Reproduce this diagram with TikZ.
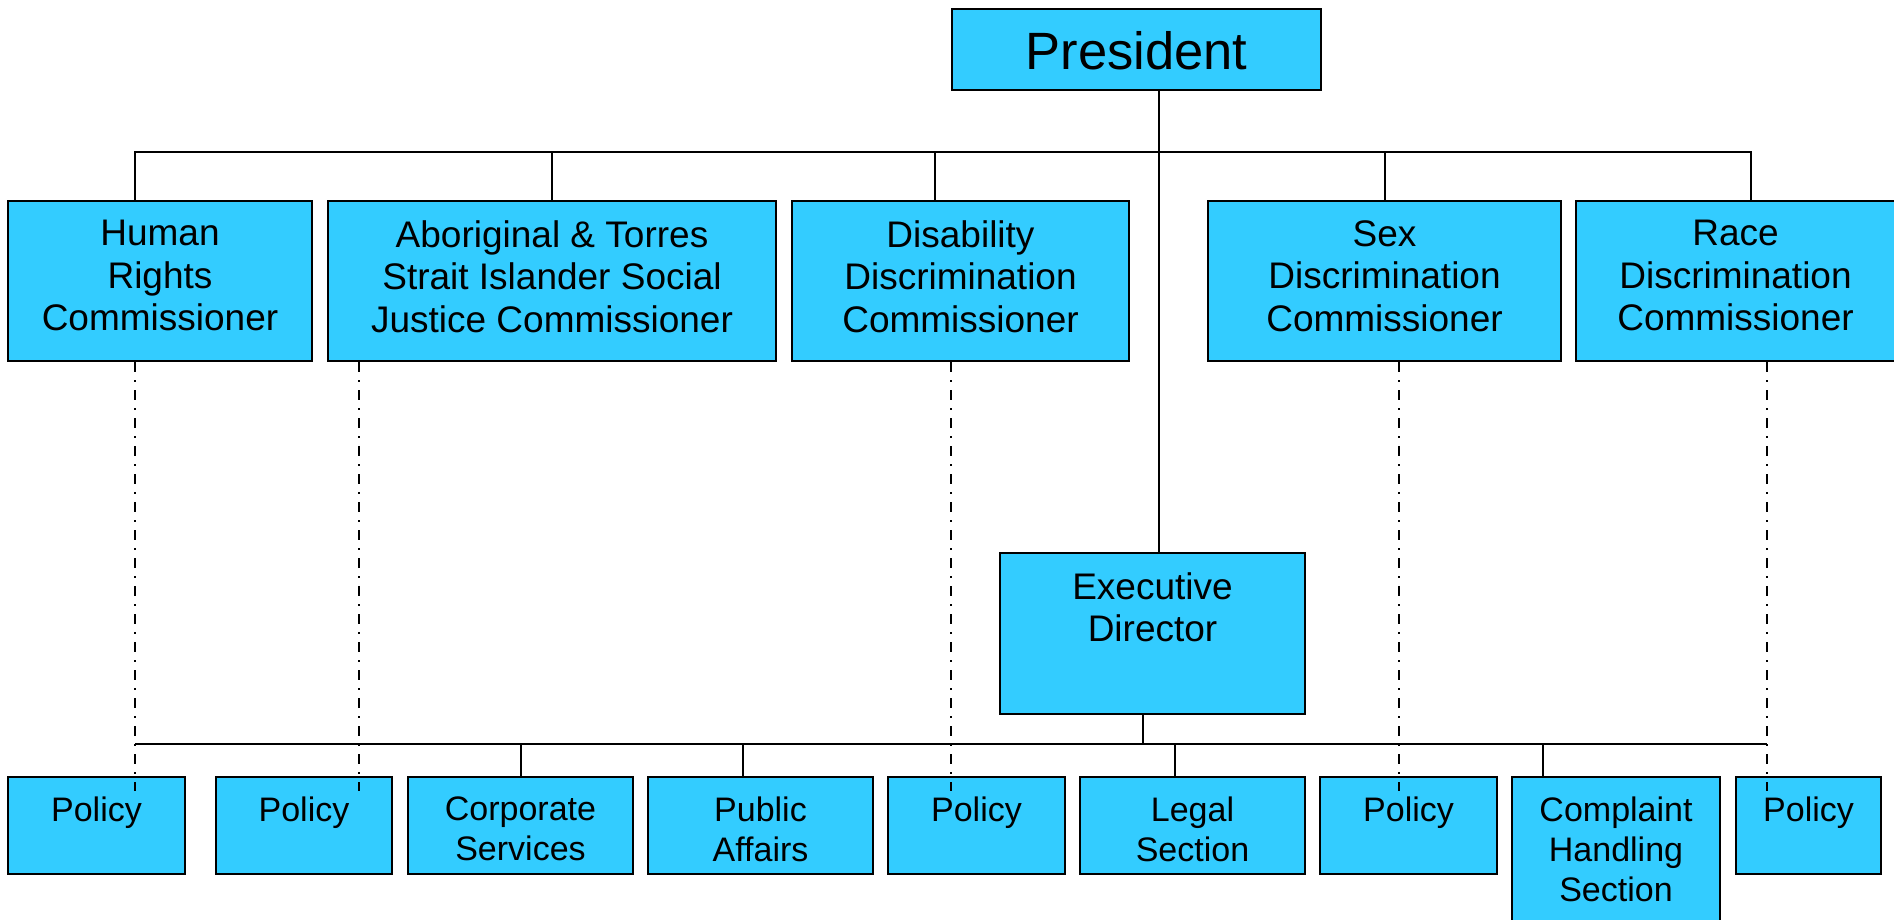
\documentclass[tikz,border=0pt]{standalone}
\usepackage{fontspec}
\setmainfont{Liberation Sans}
\usetikzlibrary{calc}
\definecolor{boxfill}{RGB}{51,204,255}
\begin{document}
\begin{tikzpicture}[x=0.5pt,y=-0.5pt,
  box/.style={draw=black, line width=1pt, fill=boxfill, inner sep=0pt, anchor=north west},
  sz/.style 2 args={minimum width=#1*0.5pt, minimum height=#2*0.5pt},
  bigtxt/.style={font=\fontsize{18.5}{21.25}\selectfont, align=center, inner sep=0pt, anchor=north},
  smalltxt/.style={font=\fontsize{17}{20}\selectfont, align=center, inner sep=0pt, anchor=north},
  titletxt/.style={font=\fontsize{26.25}{30}\selectfont, inner sep=0pt, anchor=north},
  conn/.style={line width=1pt},
  dashdot/.style={line width=1pt, dash pattern=on 5pt off 4pt on 1pt off 4pt}]

\useasboundingbox (0,0) rectangle (1894,920);

% ---- boxes ----
\node[box, sz={369}{81}] (pres) at (951,8) {};

\node[box, sz={304}{160}] (hr)   at (7,200) {};
\node[box, sz={448}{160}] (abor) at (327,200) {};
\node[box, sz={337}{160}] (dis)  at (791,200) {};
\node[box, sz={353}{160}] (sex)  at (1207,200) {};
\node[box, sz={325}{160}] (race) at (1575,200) {};

\node[box, sz={305}{161}] (exec) at (999,552) {};

\node[box, sz={177}{97}]  (pol1)  at (7,776) {};
\node[box, sz={176}{97}]  (pol2)  at (215,776) {};
\node[box, sz={225}{97}]  (corp)  at (407,776) {};
\node[box, sz={225}{97}]  (pub)   at (647,776) {};
\node[box, sz={177}{97}]  (pol3)  at (887,776) {};
\node[box, sz={225}{97}]  (legal) at (1079,776) {};
\node[box, sz={177}{97}]  (pol4)  at (1319,776) {};
\node[box, sz={208}{150}] (compl) at (1511,776) {};
\node[box, sz={145}{97}]  (pol5)  at (1735,776) {};

% ---- labels ----
\node[titletxt] (pres-t) at ($(pres.north)+(0,23.5)$) {President};

\node[bigtxt] (hr-t)   at ($(hr.north)+(0,20)$)   {Human\\Rights\\Commissioner};
\node[bigtxt] (abor-t) at ($(abor.north)+(0,20)$) {Aboriginal \& Torres\\Strait Islander Social\\Justice Commissioner};
\node[bigtxt] (dis-t)  at ($(dis.north)+(0,20)$)  {Disability\\Discrimination\\Commissioner};
\node[bigtxt] (sex-t)  at ($(sex.north)+(0,20)$)  {Sex\\Discrimination\\Commissioner};
\node[bigtxt] (race-t) at ($(race.north)+(-3,20)$) {Race\\Discrimination\\Commissioner};
\node[bigtxt] (exec-t) at ($(exec.north)+(0,20)$) {Executive\\Director};

\node[smalltxt] (pol1-t)  at ($(pol1.north)+(0,20.5)$)  {Policy};
\node[smalltxt] (pol2-t)  at ($(pol2.north)+(0,20.5)$)  {Policy};
\node[smalltxt] (corp-t)  at ($(corp.north)+(0,20.5)$)  {Corporate\\Services};
\node[smalltxt] (pub-t)   at ($(pub.north)+(0,20.5)$)   {Public\\Affairs};
\node[smalltxt] (pol3-t)  at ($(pol3.north)+(0,20.5)$)  {Policy};
\node[smalltxt] (legal-t) at ($(legal.north)+(0,20.5)$) {Legal\\Section};
\node[smalltxt] (pol4-t)  at ($(pol4.north)+(0,20.5)$)  {Policy};
\node[smalltxt] (compl-t) at ($(compl.north)+(0,20.5)$) {Complaint\\Handling\\Section};
\node[smalltxt] (pol5-t)  at ($(pol5.north)+(0,20.5)$)  {Policy};

% ---- bus levels and drop positions ----
\coordinate (tb)    at (0,152);
\coordinate (bb)    at (0,744);
\coordinate (xst)   at (1159,0);
\coordinate (xhr)   at (135,0);
\coordinate (xdis)  at (935,0);
\coordinate (xrace) at (1751,0);
\coordinate (xex)   at (1143,0);
\coordinate (xpub)  at (743,0);
\coordinate (xleg)  at (1175,0);
\coordinate (xcom)  at (1543,0);
\coordinate (d1) at (135,0);
\coordinate (d2) at (359,0);
\coordinate (d3) at (951,0);
\coordinate (d4) at (1399,0);
\coordinate (d5) at (1767,0);

% ---- solid reporting lines ----
\draw[conn] (pres.south -| xst) -- (exec.north -| xst);
\draw[conn] (hr.north -| xhr) |- (tb -| xrace) -- (race.north -| xrace);
\draw[conn] (abor.north) -- (abor.north |- tb);
\draw[conn] (dis.north -| xdis) -- (tb -| xdis);
\draw[conn] (sex.north) -- (sex.north |- tb);

\draw[conn] (exec.south -| xex) -- (bb -| xex);
\draw[conn] (bb -| d1) -- (bb -| d5);
\draw[conn] (corp.north) -- (corp.north |- bb);
\draw[conn] (pub.north -| xpub) -- (bb -| xpub);
\draw[conn] (legal.north -| xleg) -- (bb -| xleg);
\draw[conn] (compl.north -| xcom) -- (bb -| xcom);

% ---- dash-dot lines from commissioners to their policy units ----
\draw[dashdot] (hr.south -| d1)   -- ($(pol1.north -| d1)+(0,15)$);
\draw[dashdot] (abor.south -| d2) -- ($(pol2.north -| d2)+(0,15)$);
\draw[dashdot] (dis.south -| d3)  -- ($(pol3.north -| d3)+(0,15)$);
\draw[dashdot] (sex.south -| d4)  -- ($(pol4.north -| d4)+(0,15)$);
\draw[dashdot] (race.south -| d5) -- ($(pol5.north -| d5)+(0,15)$);
\end{tikzpicture}
\end{document}
